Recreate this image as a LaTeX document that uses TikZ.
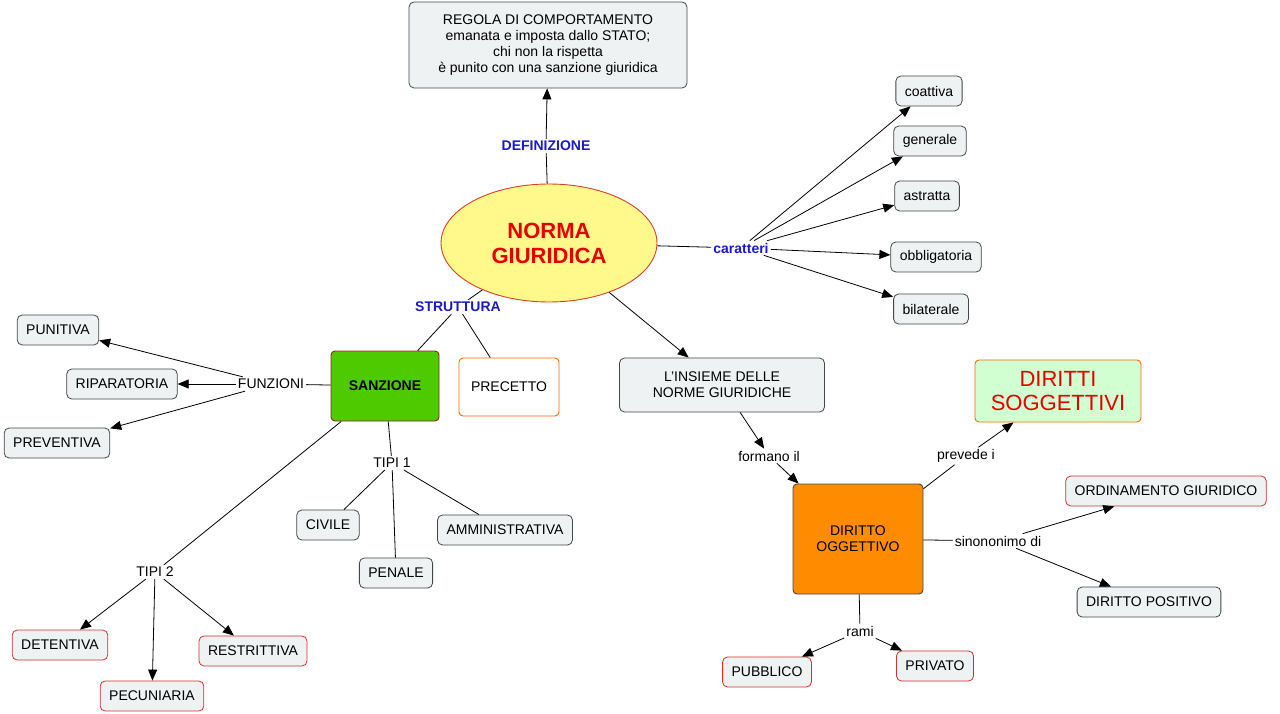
\documentclass[tikz,border=0pt]{standalone}
\usepackage{fontspec}
\setmainfont{Liberation Sans}
\usetikzlibrary{shapes.geometric,arrows.meta}
\definecolor{boxfill}{HTML}{EEF2F2}
\definecolor{boxdraw}{HTML}{404848}
\definecolor{redb}{HTML}{D03030}
\definecolor{lblue}{HTML}{1A1AC8}
\begin{document}
\begin{tikzpicture}[x=1pt,y=-1pt,
 every node/.style={font=\fontsize{14}{16}\selectfont,align=center},
 box/.style={draw=boxdraw,fill=boxfill,rounded corners=5pt,line width=0.8pt,inner xsep=9pt,minimum height=30pt},
 rbox/.style={box,draw=redb},
 lab/.style={fill=white,inner sep=2pt},
 blab/.style={font=\bfseries\fontsize{14}{16}\selectfont,text=lblue,fill=white,inner sep=2pt},
 ln/.style={line width=0.8pt},
 ar/.style={ln,-{Triangle[length=11pt,width=9pt]}}]
\useasboundingbox (0,0) rectangle (1280,714);
\fill[white] (0,0) rectangle (1280,714);
% nodes
\node[box,minimum width=278pt,minimum height=86pt] (def) at (548,45) {REGOLA DI COMPORTAMENTO\\emanata e imposta dallo STATO;\\chi non la rispetta\\è punito con una sanzione giuridica};
\node[ellipse,draw=redb!80!orange,fill=yellow!45,line width=0.9pt,minimum width=216pt,minimum height=118pt,font=\bfseries\fontsize{22}{25}\selectfont,text=red!90!black] (norma) at (549,243) {NORMA\\GIURIDICA};
\node[blab] (defl) at (546,146) {DEFINIZIONE};
\node[blab] (car) at (741,248) {caratteri};
\node[blab] (str) at (458,307) {STRUTTURA};
\node[box] (c1) at (929,91) {coattiva};
\node[box] (c2) at (930,141) {generale};
\node[box] (c3) at (927,196) {astratta};
\node[box] (c4) at (936,257) {obbligatoria};
\node[box] (c5) at (931,309) {bilaterale};
\node[draw=redb!70!black,fill=green!55!olive!90!yellow,rounded corners=4pt,line width=0.9pt,minimum width=108pt,minimum height=70pt,font=\bfseries\fontsize{14}{16}\selectfont] (sanz) at (385,386) {SANZIONE};
\node[draw=orange!80!red,fill=white,rounded corners=4pt,line width=0.9pt,minimum width=100pt,minimum height=58pt] (prec) at (509,387) {PRECETTO};
\node[lab] (funz) at (271,384) {FUNZIONI};
\node[box] (pun) at (58,330) {PUNITIVA};
\node[box] (rip) at (122,384) {RIPARATORIA};
\node[box] (prev) at (57,443) {PREVENTIVA};
\node[lab] (t1) at (392,463) {TIPI 1};
\node[box] (civ) at (328,525) {CIVILE};
\node[box] (pen) at (396,573) {PENALE};
\node[box] (amm) at (505,530) {AMMINISTRATIVA};
\node[lab] (t2) at (155,572) {TIPI 2};
\node[rbox] (det) at (60,645) {DETENTIVA};
\node[rbox] (res) at (253,651) {RESTRITTIVA};
\node[rbox] (pec) at (152,696) {PECUNIARIA};
\node[box,minimum width=205pt,minimum height=54pt] (ins) at (722,385) {L'INSIEME DELLE\\NORME GIURIDICHE};
\node[lab] (form) at (769,456) {formano il};
\node[draw=boxdraw,fill=orange!90!yellow,rounded corners=4pt,line width=0.9pt,minimum width=130pt,minimum height=110pt] (dog) at (858,539) {DIRITTO\\OGGETTIVO};
\node[lab] (prv) at (966,456) {prevede i};
\node[draw=orange!80!red,fill=green!18,rounded corners=4pt,line width=0.9pt,minimum width=166pt,minimum height=62pt,font=\fontsize{22}{24}\selectfont,text=red!90!black] (dsog) at (1058,391) {DIRITTI\\SOGGETTIVI};
\node[lab] (sin) at (998,541) {sinononimo di};
\node[rbox] (ord) at (1166,491) {ORDINAMENTO GIURIDICO};
\node[box] (dpos) at (1149,602) {DIRITTO POSITIVO};
\node[lab] (rami) at (860,631) {rami};
\node[rbox] (pub) at (767,672) {PUBBLICO};
\node[rbox] (pri) at (935,666) {PRIVATO};
% edges
\draw[ln] (norma) -- (defl);
\draw[ar] (defl) -- (def);
\draw[ln] (norma) -- (car);
\foreach \c in {c1,c2,c3,c4,c5} \draw[ar] (car) -- (\c);
\draw[ln] (norma) -- (str);
\draw[ln] (str) -- (sanz);
\draw[ln] (str) -- (prec);
\draw[ln] (sanz) -- (funz);
\foreach \c in {pun,rip,prev} \draw[ar] (funz) -- (\c);
\draw[ln] (sanz) -- (t1);
\foreach \c in {civ,pen,amm} \draw[ln] (t1) -- (\c);
\draw[ln] (sanz) -- (t2);
\foreach \c in {det,res,pec} \draw[ar] (t2) -- (\c);
\draw[ar] (norma) -- (ins);
\draw[ar] (ins) -- (form);
\draw[ar] (form) -- (dog);
\draw[ln] (dog) -- (prv);
\draw[ar] (prv) -- (dsog);
\draw[ln] (dog) -- (sin);
\draw[ar] (sin) -- (ord);
\draw[ar] (sin) -- (dpos);
\draw[ln] (dog) -- (rami);
\draw[ar] (rami) -- (pub);
\draw[ar] (rami) -- (pri);
\end{tikzpicture}
\end{document}
